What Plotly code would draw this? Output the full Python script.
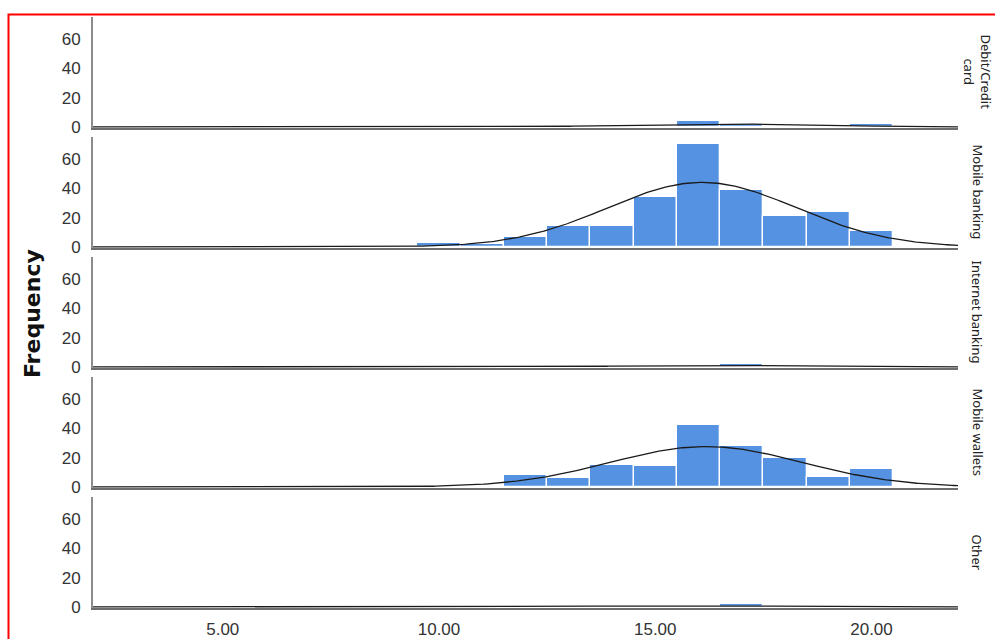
import numpy as np
import plotly.graph_objects as go
from plotly.subplots import make_subplots

# ---- data ----
groups = ["Debit/Credit card", "Mobile banking", "Internet banking", "Mobile wallets", "Other"]
group_labels = ["Debit/Credit<br>card", "Mobile banking", "Internet banking", "Mobile wallets", "Other"]
bins = [5, 6, 7, 8, 9, 10, 11, 12, 13, 14, 15, 16, 17, 18, 19, 20]
debit_credit = [0, 0, 0, 0, 0, 0, 0, 0, 1, 1, 0, 4, 2, 0, 1, 2]
mobile_banking = [0, 0, 1, 1, 0, 3, 2, 7, 14, 14, 34, 70, 39, 21, 24, 11]
internet_banking = [0, 0, 0, 0, 0, 0, 0, 0, 1, 0, 1, 0, 2, 1, 0, 1]
mobile_wallets = [1, 0, 0, 0, 0, 0, 1, 8, 6, 15, 14, 42, 28, 20, 7, 12]
other = [0, 0, 0, 0, 0, 0, 0, 1, 0, 1, 0, 0, 2, 0, 1, 0]
series = [debit_credit, mobile_banking, internet_banking, mobile_wallets, other]
x_ticks = [5, 10, 15, 20]
x_tick_text = ["5.00", "10.00", "15.00", "20.00"]
y_ticks = [0, 20, 40, 60]

BAR = "#5592e2"
W, H = 995, 639
L, R, T, B = 93, 37, 17, 31
plot_h = H - T - B
plot_w = W - L - R
gap = 9 / plot_h

fig = make_subplots(rows=5, cols=1, shared_xaxes=True, vertical_spacing=gap)

xgrid = np.linspace(2, 22, 400)
b = np.array(bins, dtype=float)
for i, counts in enumerate(series):
    c = np.array(counts, dtype=float)
    mask = c > 0
    fig.add_trace(go.Bar(x=b[mask], y=c[mask], width=1,
                         marker=dict(color=BAR, line=dict(color="white", width=1.3)),
                         showlegend=False, hoverinfo="x+y"), row=i + 1, col=1)
    n = c.sum()
    mean = (b * c).sum() / n
    sd = np.sqrt(((b - mean) ** 2 * c).sum() / (n - 1))
    ycurve = n * np.exp(-0.5 * ((xgrid - mean) / sd) ** 2) / (sd * np.sqrt(2 * np.pi))
    fig.add_trace(go.Scatter(x=xgrid, y=ycurve, mode="lines",
                             line=dict(color="#1a1a1a", width=1.3),
                             showlegend=False, hoverinfo="skip"), row=i + 1, col=1)

tickfont = dict(family="Liberation Sans, Arial", size=17, color="#333333")
for i in range(5):
    fig.update_yaxes(row=i + 1, col=1, range=[-0.7, 75], tickvals=y_ticks,
                     showgrid=False, zeroline=False, showline=True,
                     linecolor="#8c8c8c", linewidth=2, ticks="", ticklabelstandoff=7,
                     tickfont=tickfont, layer="below traces", fixedrange=True,
                     automargin=False)
    fig.update_xaxes(row=i + 1, col=1, range=[2, 22], tickvals=x_ticks, ticktext=x_tick_text,
                     showgrid=False, zeroline=False, showline=True,
                     linecolor="#6e6e6e", linewidth=2, ticks="",
                     tickfont=tickfont, layer="below traces",
                     showticklabels=(i == 4), ticklabelstandoff=5, automargin=False)

annotations = []
for i, lab in enumerate(group_labels):
    dom = fig.layout["yaxis" if i == 0 else f"yaxis{i + 1}"].domain
    annotations.append(dict(text=lab, xref="paper", yref="paper",
                            x=(977 - L) / plot_w, y=(dom[0] + dom[1]) / 2,
                            xanchor="center", yanchor="middle", textangle=90, showarrow=False,
                            font=dict(family="Noto Sans", size=13, color="#222222")))
annotations.append(dict(text="<b>Frequency</b>", xref="paper", yref="paper",
                        x=(32 - L) / plot_w, y=(H - B - 313) / plot_h,
                        xanchor="center", yanchor="middle",
                        textangle=-90, showarrow=False,
                        font=dict(family="DejaVu Sans", size=22, color="#111111")))

fig.update_layout(
    width=W, height=H,
    margin=dict(l=L, r=R, t=T, b=B, autoexpand=False),
    paper_bgcolor="white", plot_bgcolor="white",
    bargap=0, annotations=annotations,
    shapes=[dict(type="rect", xref="paper", yref="paper",
                 x0=(8.5 - L) / plot_w, x1=(1005 - L) / plot_w,
                 y0=(H - B - 650) / plot_h, y1=(H - B - 14.5) / plot_h,
                 line=dict(color="red", width=2), fillcolor="rgba(0,0,0,0)", layer="above")],
)

fig.write_html("out.html", config={"displayModeBar": False},
               post_script="document.body.style.margin='0';")
